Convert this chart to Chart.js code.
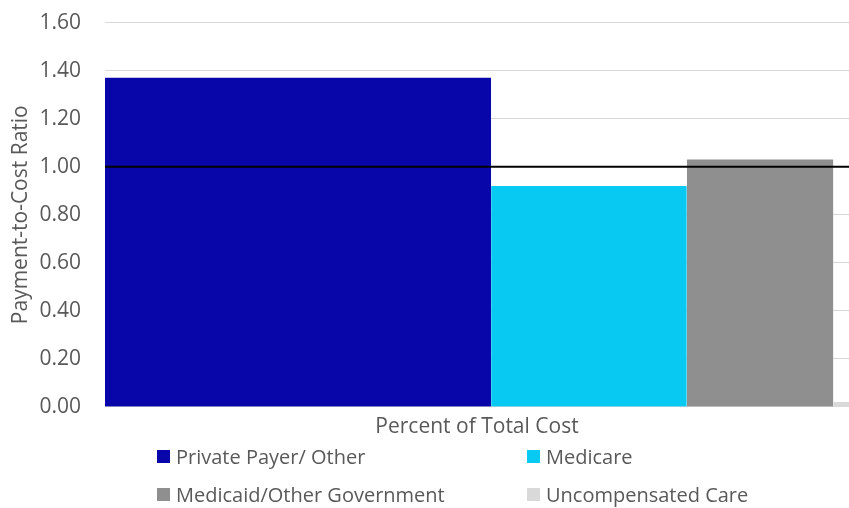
<!DOCTYPE html>
<html lang="en">
  <head>
    <meta charset="UTF-8" />
    <title>Payment-to-Cost Ratio</title>
    <script src="https://cdn.jsdelivr.net/npm/chart.js@4.4.1/dist/chart.umd.min.js"></script>
    <style>
      body { margin: 0; background: #fff; font-family: "Open Sans", sans-serif; }
      .wrap { position: relative; width: 849px; height: 508px; overflow: hidden; }
      .box { position: absolute; left: 0; top: -14px; width: 849px; height: 460px; }
      #legend {
        position: absolute; left: 157px; top: 437px;
        display: grid; grid-template-columns: 370px auto; grid-auto-rows: 38px;
        color: #595959; font-size: 20px;
      }
      #legend .item { display: flex; align-items: center; }
      #legend .sw { width: 13px; height: 13px; margin-right: 6px; }
    </style>
  </head>
  <body>
    <div class="wrap">
      <div class="box"><canvas id="mychart"></canvas></div>
      <div id="legend"></div>
    </div>
    <script>
      // payer groups, share of total cost (%) and payment-to-cost ratio
      const categories = ["Private Payer/ Other", "Medicare", "Medicaid/Other Government", "Uncompensated Care"];
      const costShare = [51.9, 26.3, 19.7, 2.1];
      const ratios = [1.37, 0.92, 1.03, 0.02];
      const colors = ["#0806a8", "#08c9f1", "#8f8f8f", "#d9d9d9"];
      const breakEven = 1.0;

      // each payer is a rectangle: width = share of cost, height = ratio
      const datasets = [];
      let start = 0;
      categories.forEach((name, i) => {
        const end = start + costShare[i];
        datasets.push({
          label: name,
          data: [{ x: start, y: ratios[i] }, { x: end, y: ratios[i] }],
          backgroundColor: colors[i],
          borderWidth: 0,
          pointRadius: 0,
          fill: "origin",
          order: 1,
        });
        start = end;
      });
      datasets.unshift({
        label: "break even",
        data: [{ x: 0, y: breakEven }, { x: 100, y: breakEven }],
        borderColor: "#000",
        borderWidth: 2,
        pointRadius: 0,
        fill: false,
        order: 0,
      });

      const ctx = document.getElementById("mychart").getContext("2d");
      new Chart(ctx, {
        type: "line",
        data: { datasets },
        options: {
          animation: false,
          responsive: true,
          maintainAspectRatio: false,
          layout: { padding: { top: 8, right: 0, bottom: 4, left: 0 } },
          plugins: { legend: { display: false }, tooltip: { enabled: false } },
          scales: {
            x: {
              type: "linear",
              min: 0,
              max: 100,
              grid: { display: false },
              border: { display: false },
              ticks: { display: false },
              title: {
                display: true,
                text: "Percent of Total Cost",
                color: "#595959",
                font: { family: "Open Sans", size: 21 },
                padding: { top: 0, bottom: 2 },
              },
            },
            y: {
              min: 0,
              max: 1.6,
              afterFit: (scale) => { scale.width = 105; },
              grid: { color: "#d9d9d9", drawTicks: false },
              border: { display: false },
              ticks: {
                stepSize: 0.2,
                padding: 24,
                color: "#595959",
                font: { family: "Open Sans", size: 21 },
                callback: (v) => v.toFixed(2),
              },
              title: {
                display: true,
                text: "Payment-to-Cost Ratio",
                color: "#595959",
                font: { family: "Open Sans", size: 21 },
                padding: { top: 8, bottom: 0 },
              },
            },
          },
        },
      });

      const legend = document.getElementById("legend");
      categories.forEach((name, i) => {
        const item = document.createElement("div");
        item.className = "item";
        item.innerHTML = '<span class="sw" style="background:' + colors[i] + '"></span>' + name;
        legend.appendChild(item);
      });
    </script>
  </body>
</html>
